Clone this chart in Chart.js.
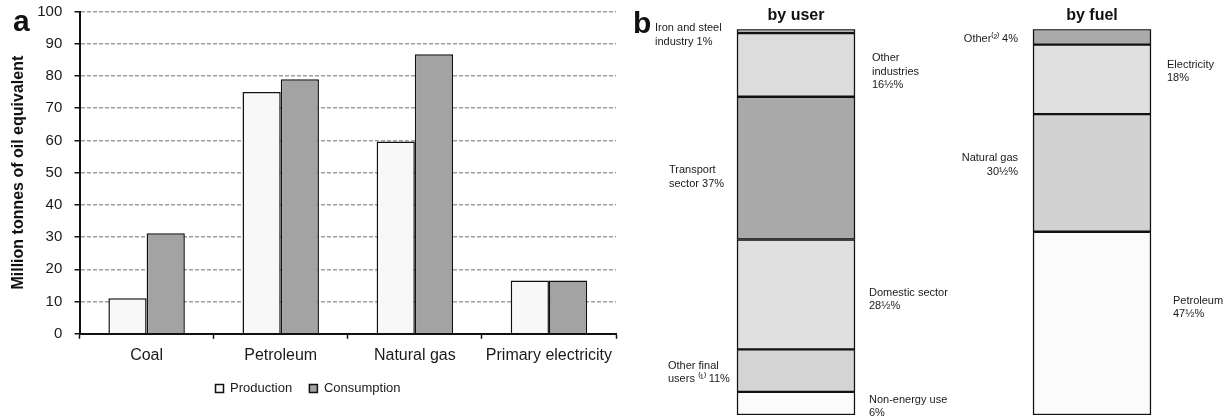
<!DOCTYPE html>
<html>
<head>
<meta charset="utf-8">
<script src="https://cdn.jsdelivr.net/npm/chart.js@4/dist/chart.umd.min.js"></script>
<style>
  body { margin: 0; background: #fff; }
  #wrapA { position: absolute; left: 0; top: 0; }
  #wrapB { position: absolute; left: 625px; top: 0; }
</style>
</head>
<body>
<div id="wrapA"><canvas id="energia" width="625" height="417"></canvas></div>
<div id="wrapB"><canvas id="reparto" width="599" height="417"></canvas></div>
<script>
// panel a: production vs consumption (million tonnes of oil equivalent)
const fuentes = ['Coal', 'Petroleum', 'Natural gas', 'Primary electricity'];
const produccion = [11, 75, 59.7, 16.5];
const consumo = [31.2, 79, 86.7, 16.5];
const yTicks = [0, 10, 20, 30, 40, 50, 60, 70, 80, 90, 100];

// panel b: shares of final energy use, listed bottom to top
const barTitles = ['by user', 'by fuel'];
const userNames = ['Non-energy use\n6%', 'Other final\nusers \u207D\u00B9\u207E 11%', 'Domestic sector\n28\u00BD%',
  'Transport\nsector 37%', 'Other\nindustries\n16\u00BD%', 'Iron and steel\nindustry 1%'];
const userShares = [6, 11, 28.5, 37, 16.5, 1];
const fuelNames = ['Petroleum\n47\u00BD%', 'Natural gas\n30\u00BD%', 'Electricity\n18%', 'Other\u207D\u00B2\u207E 4%'];
const fuelShares = [47.5, 30.5, 18, 4];

// styles / label placement (kept apart from the data)
const userColors = ['#fbfbfb', '#d4d4d4', '#e0e0e0', '#a9a9a9', '#dcdcdc', '#b0b0b0'];
const fuelColors = ['#fbfbfb', '#d2d2d2', '#e0e0e0', '#aaaaaa'];
// side: r = right of bar, l = left of bar; dx from bar edge, dy from segment centre
const userPlace = [
  {side: 'r', dx: 14, dy: 3, align: 'left'},
  {side: 'l', dx: -69, dy: 2, align: 'left'},
  {side: 'r', dx: 14, dy: 5, align: 'left'},
  {side: 'l', dx: -68, dy: 9, align: 'left'},
  {side: 'r', dx: 17, dy: 7, align: 'left'},
  {side: 'l', dx: -82, dy: 4, align: 'left'}
];
const fuelPlace = [
  {side: 'r', dx: 22, dy: -16, align: 'left'},
  {side: 'l', dx: -15, dy: -8, align: 'right'},
  {side: 'r', dx: 16, dy: -8, align: 'left'},
  {side: 'l', dx: -15, dy: 2, align: 'right'}
];

const fuente = "'Liberation Sans', Arial, sans-serif";
Chart.defaults.font.family = fuente;
Chart.defaults.color = '#1a1a1a';

const letra = {
  id: 'letra',
  afterDraw(chart, args, opts) {
    const c = chart.ctx;
    c.save();
    c.font = 'bold 30px ' + fuente;
    c.fillStyle = '#111';
    c.textBaseline = 'alphabetic';
    c.fillText(opts.text, opts.x, opts.y);
    c.restore();
  }
};

new Chart(document.getElementById('energia'), {
  type: 'bar',
  data: {
    labels: fuentes,
    datasets: [{
      label: 'Production',
      data: produccion,
      backgroundColor: '#f8f8f8',
      borderColor: '#111',
      borderWidth: 1.5
    }, {
      label: 'Consumption',
      data: consumo,
      backgroundColor: '#a3a3a3',
      borderColor: '#111',
      borderWidth: 1.5
    }]
  },
  options: {
    responsive: false,
    animation: false,
    devicePixelRatio: 1,
    categoryPercentage: 0.57,
    barPercentage: 1,
    layout: { padding: { left: 0, right: 9, top: 0, bottom: 12 } },
    scales: {
      x: {
        grid: { offset: true, drawOnChartArea: false, tickLength: 5, tickColor: '#111', tickWidth: 1.5 },
        border: { color: '#111', width: 2 },
        ticks: { font: { size: 16 }, padding: 7, color: '#1a1a1a', maxRotation: 0, autoSkip: false }
      },
      y: {
        min: 0,
        max: 100,
        afterBuildTicks: ax => { ax.ticks = yTicks.map(v => ({value: v})); },
        grid: { color: '#a0a0a0', lineWidth: 1.5, tickColor: '#111', tickLength: 5, tickWidth: 1.5, tickBorderDash: [] },
        border: { color: '#111', width: 2, dash: [4, 2] },
        ticks: { font: { size: 15, lineHeight: 1 }, padding: 4, color: '#1a1a1a', callback: v => v + '  ' },
        title: {
          display: true,
          text: 'Million tonnes of oil equivalent',
          font: { size: 16, weight: 'bold' },
          color: '#111',
          padding: { top: 9, bottom: 5 }
        }
      }
    },
    plugins: {
      legend: {
        position: 'bottom',
        labels: {
          boxWidth: 8, boxHeight: 8, font: { size: 13 }, padding: 10, color: '#1a1a1a',
          generateLabels: chart => {
            const items = Chart.defaults.plugins.legend.labels.generateLabels(chart);
            return items.map((it, i) => i < items.length - 1 ? Object.assign(it, {text: it.text + '  '}) : it);
          }
        }
      },
      tooltip: { enabled: false },
      letra: { text: 'a', x: 13, y: 31 }
    }
  },
  plugins: [letra]
});

// build the stacked segments of panel b
const segmentos = [];
userShares.forEach((v, i) => segmentos.push({
  label: userNames[i], data: [{x: 0, y: v}], backgroundColor: userColors[i], place: userPlace[i]
}));
fuelShares.forEach((v, i) => segmentos.push({
  label: fuelNames[i], data: [{x: 1, y: v}], backgroundColor: fuelColors[i], place: fuelPlace[i]
}));

const etiquetas = {
  id: 'etiquetas',
  afterDatasetsDraw(chart) {
    const c = chart.ctx;
    const xs = chart.scales.x, ys = chart.scales.y;
    const acum = [0, 0];
    c.save();
    c.font = '11px ' + fuente;
    c.fillStyle = '#1a1a1a';
    c.textBaseline = 'middle';
    chart.data.datasets.forEach(ds => {
      const pt = ds.data[0];
      const base = acum[pt.x];
      acum[pt.x] += pt.y;
      const centro = ys.getPixelForValue(base + pt.y / 2);
      const xc = xs.getPixelForValue(pt.x);
      const p = ds.place;
      const borde = p.side === 'r' ? xc + 59 : xc - 59;
      const lineas = ds.label.split('\n');
      const alto = 13.5;
      const y0 = centro + p.dy - (lineas.length - 1) * alto / 2;
      c.textAlign = p.align;
      lineas.forEach((t, k) => c.fillText(t, borde + p.dx, y0 + k * alto));
    });
    c.restore();
  }
};

new Chart(document.getElementById('reparto'), {
  type: 'bar',
  data: { datasets: segmentos },
  options: {
    responsive: false,
    animation: false,
    devicePixelRatio: 1,
    datasets: { bar: { barThickness: 118, borderColor: '#111', borderWidth: 1.5, borderSkipped: false } },
    layout: { padding: { left: 0, right: 0, top: 2, bottom: 2 } },
    scales: {
      x: {
        type: 'linear',
        position: 'top',
        stacked: true,
        offset: false,
        min: -171 / 296,
        max: 428 / 296,
        afterBuildTicks: ax => { ax.ticks = [{value: 0}, {value: 1}]; },
        grid: { display: false, drawTicks: false, offset: false },
        border: { display: false },
        ticks: { font: { size: 16, weight: 'bold' }, color: '#111', padding: 4, callback: v => barTitles[v] }
      },
      y: { display: false, stacked: true, min: 0, max: 100 }
    },
    plugins: {
      legend: { display: false },
      tooltip: { enabled: false },
      letra: { text: 'b', x: 8, y: 33 }
    }
  },
  plugins: [letra, etiquetas]
});
</script>
</body>
</html>
